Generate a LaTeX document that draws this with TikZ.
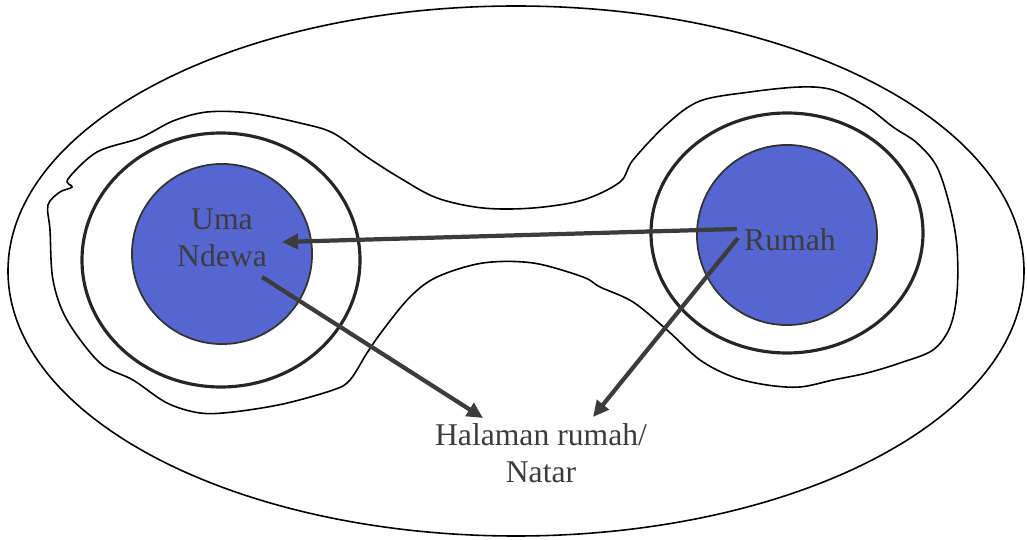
\documentclass[tikz,border=0pt]{standalone}
\usepackage{fontspec}
\setmainfont{Liberation Serif}
\usetikzlibrary{calc,arrows.meta,positioning}
\definecolor{coreblue}{RGB}{86,102,208}
\definecolor{inkgray}{RGB}{60,60,60}
\tikzset{
  core/.style={circle, draw=black!80, line width=0.5pt, fill=coreblue, minimum size=1.8cm, inner sep=0pt},
  ring/.style={draw=black!85, line width=0.9pt},
  outline/.style={draw=black, line width=0.45pt},
  lbl/.style={align=center, text=inkgray, inner sep=1pt, font=\fontsize{9}{10.6}\selectfont},
  arr/.style={-{Triangle[length=1.6mm,width=1.5mm]}, draw=inkgray, line width=1.2pt}
}
\begin{document}
\begin{tikzpicture}[x=0.01cm, y=-0.01cm]
  \useasboundingbox (0,0) rectangle (1027,540);

  % outer field
  \draw[outline] (516,271) ellipse [x radius=508, y radius=265];

  % wavy boundary of the compound
  \draw[outline] plot[smooth cycle, tension=0.55] coordinates {
    (48,205) (60,192) (72,187) (68,179) (97,152) (140,138) (173,121) (207,112)
    (250,113) (300,123) (333,133) (367,157) (400,178) (437,198) (483,208)
    (533,208) (583,200) (620,182) (633,160) (667,124) (700,101) (750,92)
    (800,87) (833,90) (867,107) (893,127) (917,143) (937,167) (950,207)
    (957,247) (957,293) (950,327) (933,350) (900,363) (867,373) (833,380)
    (800,387) (767,385) (733,377) (700,360) (667,330) (633,302) (600,287)
    (583,277) (533,263) (483,263) (437,277) (410,297) (383,330) (367,353)
    (350,380) (333,390) (283,404) (233,412) (200,413) (167,403) (133,380)
    (100,363) (67,320) (53,280) (50,230)};

  % rings and cores
  \draw[ring] (221,260) ellipse [x radius=139, y radius=127];
  \draw[ring] (787,233) ellipse [x radius=136, y radius=120];
  \node[core] (umaCore) at (222,254) {};
  \node[core] (rumahCore) at (787,235) {};

  % labels
  \node[lbl] (uma) at (222,238) {Uma\\Ndewa};
  \node[lbl, anchor=west] (rumah) at (740,240) {Rumah};
  \node[lbl] (natar) at (541,453) {Halaman rumah/\\Natar};

  \coordinate (rumahOut) at (737,229);
  \coordinate (rumahDown) at (738,238);
  \coordinate (umaIn) at (282,242);
  \coordinate (umaOut) at (262,277);
  \coordinate (natarL) at (483,418);
  \coordinate (natarR) at (593,417);

  \draw[arr] (rumahOut) -- (umaIn);
  \draw[arr] (umaOut) -- (natarL);
  \draw[arr] (rumahDown) -- (natarR);
\end{tikzpicture}
\end{document}
